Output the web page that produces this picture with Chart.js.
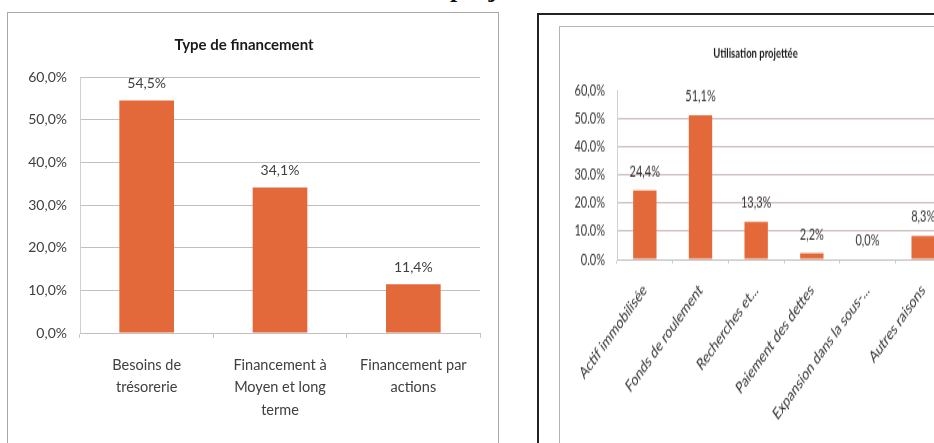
<!DOCTYPE html>
<html>
<head>
<meta charset="utf-8">
<script src="https://cdn.jsdelivr.net/npm/chart.js@4.4.1/dist/chart.umd.min.js"></script>
<style>
html,body{margin:0;padding:0;width:934px;height:443px;overflow:hidden;background:#fff;position:relative;}
.cap{position:absolute;top:-26px;font:bold 26px "Liberation Serif";line-height:30px;white-space:nowrap;color:#111;}
#capA{right:484px;}
#capB{left:450px;}
#frameL{position:absolute;left:7px;top:12px;width:490px;height:440px;border:1px solid #a8a8a8;}
#frameOuter{position:absolute;left:537px;top:13px;width:420px;height:440px;border-left:2px solid #222;border-top:2px solid #222;}
#frameR{position:absolute;left:559px;top:26px;width:420px;height:440px;border:1px solid #b4b4b4;}
#cL{position:absolute;left:8px;top:13px;}
#cR{position:absolute;left:560px;top:27px;transform:scaleY(1.4);transform-origin:0 0;}
</style>
</head>
<body>
<div class="cap" id="capA">Tableau 18 : Source de financement et utilisation</div>
<div class="cap" id="capB">projetée</div>
<div id="frameL"></div>
<div id="frameOuter"></div>
<div id="frameR"></div>
<canvas id="cL" width="491" height="430"></canvas>
<canvas id="cR" width="404" height="297"></canvas>
<script>
// ---- Data: left chart ----
const leftTitle = 'Type de financement';
const leftCategories = [
  ['Besoins de', 'trésorerie'],
  ['Financement à', 'Moyen et long', 'terme'],
  ['Financement par', 'actions']
];
const leftValues = [54.5, 34.1, 11.4];
const leftTickLabels = ['0,0%', '10,0%', '20,0%', '30,0%', '40,0%', '50,0%', '60,0%'];

// ---- Data: right chart ----
const rightTitle = 'Utilisation projettée';
const rightCategories = [
  'Actif immobilisée',
  'Fonds de roulement',
  'Recherches et...',
  'Paiement des dettes',
  'Expansion dans la sous-...',
  'Autres raisons'
];
const rightValues = [24.4, 51.1, 13.3, 2.2, 0.0, 8.3];
const rightTickLabels = ['0.0%', '10.0%', '20.0%', '30.0%', '40.0%', '50.0%', '60,0%'];

const fmt = v => v.toFixed(1).replace('.', ',') + '%';

Chart.defaults.font.family = 'Lato';
Chart.defaults.color = '#404040';

const valueLabels = {
  id: 'valueLabels',
  afterDatasetsDraw(chart, args, opts) {
    const ctx = chart.ctx;
    const meta = chart.getDatasetMeta(0);
    const vals = chart.data.datasets[0].data;
    ctx.save();
    ctx.font = opts.font;
    ctx.fillStyle = opts.color;
    ctx.textAlign = 'center';
    ctx.textBaseline = 'middle';
    meta.data.forEach((el, i) => {
      ctx.fillText(fmt(vals[i]), el.x, el.y - opts.offset);
    });
    ctx.restore();
  }
};

const barColor = '#E4693A';

new Chart(document.getElementById('cL'), {
  type: 'bar',
  data: {
    labels: leftCategories,
    datasets: [{ data: leftValues, backgroundColor: barColor, borderWidth: 0,
      categoryPercentage: 1, barPercentage: 0.41 }]
  },
  options: {
    responsive: false,
    animation: false,
    layout: { padding: { left: 0, right: 19, top: 0, bottom: 0 } },
    plugins: {
      legend: { display: false },
      tooltip: { enabled: false },
      title: { display: true, text: leftTitle, color: '#1a1a1a',
        font: { size: 15, weight: 'bold' }, padding: { top: 23, bottom: 23 } },
      valueLabels: { font: '14px Lato', color: '#404040', offset: 17 }
    },
    scales: {
      y: {
        min: 0, max: 60,
        ticks: { stepSize: 10, padding: 13, color: '#404040', font: { size: 14 },
          callback: v => leftTickLabels[Math.round(v / 10)] },
        grid: { color: '#c0c0c0', drawTicks: false },
        border: { color: '#d0d0d0' },
        afterFit: s => { s.width = 72; }
      },
      x: {
        ticks: { padding: 16, color: '#404040', font: { size: 14.5, lineHeight: 1.55 },
          maxRotation: 0, minRotation: 0, autoSkip: false },
        grid: { drawOnChartArea: false, drawTicks: true, tickLength: 5, color: '#c8c8c8' },
        border: { color: '#c0c0c0' },
        afterFit: s => { s.height = 110; }
      }
    }
  },
  plugins: [valueLabels]
});

new Chart(document.getElementById('cR'), {
  type: 'bar',
  data: {
    labels: rightCategories,
    datasets: [{ data: rightValues, backgroundColor: barColor, borderWidth: 0,
      categoryPercentage: 1, barPercentage: 0.42 }]
  },
  options: {
    responsive: false,
    animation: false,
    layout: { padding: { left: 0, right: 13, top: 0, bottom: 0 } },
    plugins: {
      legend: { display: false },
      tooltip: { enabled: false },
      title: { display: true, text: rightTitle, color: '#1a1a1a',
        font: { size: 9.5, weight: 'bold' }, padding: { top: 13, bottom: 20.6 } },
      valueLabels: { font: '11px Lato', color: '#333', offset: 13.5 }
    },
    scales: {
      y: {
        min: 0, max: 60,
        ticks: { stepSize: 10, padding: 12, color: '#333', font: { size: 11 },
          callback: v => rightTickLabels[Math.round(v / 10)] },
        grid: { drawTicks: false,
          color: c => c.tick.value === 60 ? 'rgba(0,0,0,0)' : (c.tick.value === 0 ? '#c0c0c0' : '#c9b8b8') },
        border: { color: '#d0d0d0' },
        afterFit: s => { s.width = 57; }
      },
      x: {
        ticks: { padding: 12, color: '#333', font: { size: 11.8 },
          maxRotation: 45, minRotation: 45, autoSkip: false },
        grid: { drawOnChartArea: false, drawTicks: true, tickLength: 3, color: '#cfcfcf' },
        border: { color: '#c0c0c0' },
        afterFit: s => { s.height = 131; }
      }
    }
  },
  plugins: [valueLabels]
});
</script>
</body>
</html>
